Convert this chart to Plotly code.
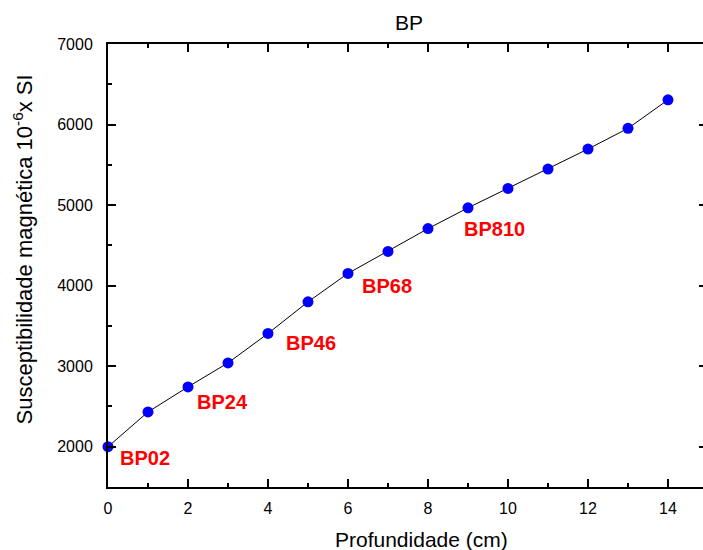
import plotly.graph_objects as go

# Depth (cm) and magnetic susceptibility (10^-6 SI) for core BP
depth = [0, 1, 2, 3, 4, 5, 6, 7, 8, 9, 10, 11, 12, 13, 14]
susceptibility = [2000, 2432, 2743, 3041, 3406, 3799, 4152, 4425,
                  4708, 4966, 5207, 5447, 5696, 5953, 6307]

# Sample interval labels and where they sit
sample_labels = ["BP02", "BP24", "BP46", "BP68", "BP810"]
label_x = [0.25, 2.17, 4.4, 6.3, 8.85]
label_y = [1860, 2560, 3290, 3995, 4700]

FONT = "Arial, Liberation Sans, sans-serif"
Y_RANGE = [1500, 7000]
X_RANGE = [0, 14.875]

fig = go.Figure()

fig.add_trace(go.Scatter(
    x=depth, y=susceptibility,
    mode="lines+markers",
    line=dict(color="black", width=1),
    marker=dict(color="#0000ff", size=11),
    cliponaxis=False,
    showlegend=False,
))

# invisible trace so the right-hand tick axis is drawn
fig.add_trace(go.Scatter(x=[depth[0]], y=[susceptibility[0]], yaxis="y2",
                         mode="markers", marker=dict(opacity=0),
                         showlegend=False, hoverinfo="skip"))

for txt, lx, ly in zip(sample_labels, label_x, label_y):
    fig.add_annotation(x=lx, y=ly, xref="x", yref="y", text=f"<b>{txt}</b>",
                       showarrow=False, xanchor="left", yanchor="middle",
                       font=dict(family=FONT, size=20, color="#ff0000"))

# axis titles
fig.add_annotation(text="Profundidade (cm)", xref="x", x=7.83,
                   yref="paper", y=(487 - 539) / 443, yanchor="middle",
                   showarrow=False, font=dict(family=FONT, size=21, color="black"))
fig.add_annotation(text="Susceptibilidade magnética 10<sup>-6</sup>x SI",
                   xref="paper", x=(23 - 108) / 595, yref="y", y=4450,
                   textangle=-90, showarrow=False, xanchor="center", yanchor="middle",
                   font=dict(family=FONT, size=22, color="black"))

fig.update_layout(
    width=703, height=550,
    margin=dict(l=108, r=0, t=44, b=63),
    paper_bgcolor="white", plot_bgcolor="white",
    title=dict(text="BP", x=(409 / 703), xanchor="center",
               y=1 - 23 / 550, yanchor="middle", yref="container",
               font=dict(family=FONT, size=21, color="black")),
    font=dict(family=FONT, color="black"),
    xaxis=dict(
        range=X_RANGE, tickmode="linear", tick0=0, dtick=2,
        ticks="inside", ticklen=8, tickwidth=2, tickcolor="black",
        minor=dict(dtick=1, ticks="inside", ticklen=4, tickwidth=2, tickcolor="black"),
        showline=True, linewidth=2, linecolor="black", mirror="ticks",
        showgrid=False, zeroline=False,
        tickfont=dict(family=FONT, size=16, color="black"),
        ticklabelstandoff=6,
    ),
    yaxis=dict(
        range=Y_RANGE, tickmode="linear", tick0=2000, dtick=1000,
        ticks="inside", ticklen=8, tickwidth=2, tickcolor="black",
        minor=dict(dtick=500, ticks="inside", ticklen=4, tickwidth=2, tickcolor="black"),
        showline=True, linewidth=2, linecolor="black", mirror=False,
        showgrid=False, zeroline=False,
        tickfont=dict(family=FONT, size=16, color="black"),
        ticklabelstandoff=10,
    ),
    yaxis2=dict(
        range=Y_RANGE, overlaying="y", side="right", tickmode="linear",
        tick0=2000, dtick=1000, ticks="inside", ticklen=4, tickwidth=2,
        tickcolor="black", showticklabels=False, showline=False,
        showgrid=False, zeroline=False,
    ),
)

fig.write_html("out.html")
